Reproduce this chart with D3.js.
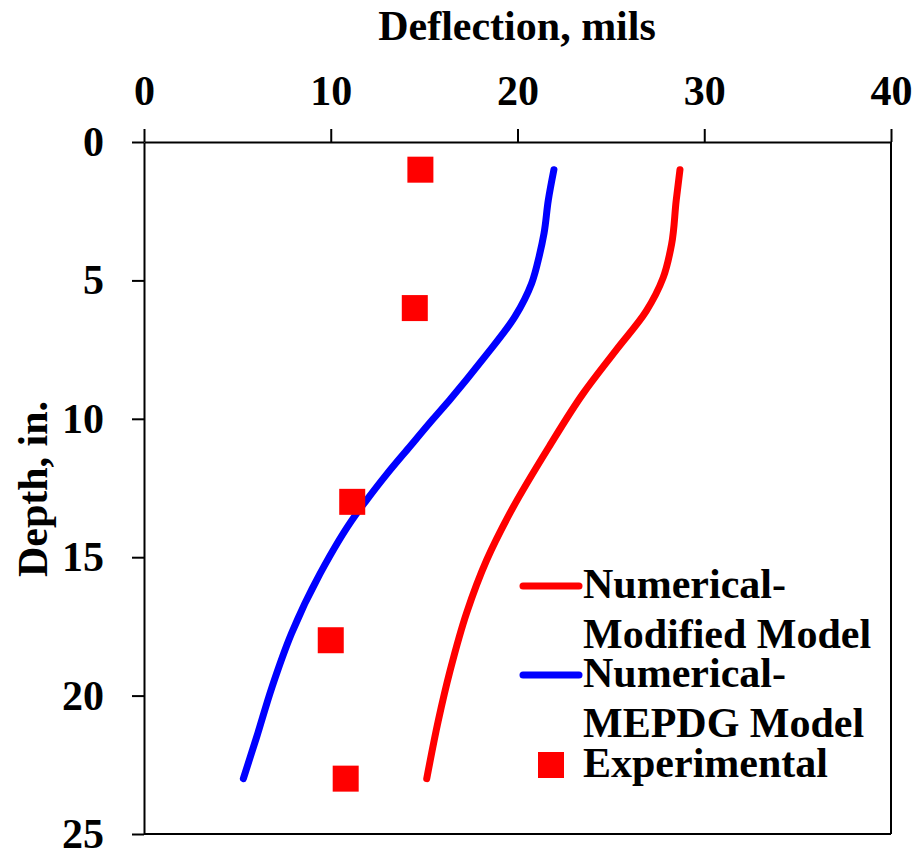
<!DOCTYPE html>
<html>
<head>
<meta charset="utf-8">
<script src="https://cdn.jsdelivr.net/npm/d3@7"></script>
<style>
  body { margin: 0; background: #fff; }
  text { font-family: "Liberation Serif", "Times New Roman", serif; font-weight: bold; fill: #000; }
</style>
</head>
<body>
<div class="chart"></div>
<script>
// depth (in.) and deflection (mils)
const modDepth = [1.0, 2.1, 3.7, 4.9, 6.1, 7.5, 9.1, 11.0, 13.4, 15.1, 17.0, 19.1, 20.9, 23.0];
const modDefl  = [28.7, 28.5, 28.25, 27.8, 26.9, 25.3, 23.5, 21.7, 19.6, 18.35, 17.28, 16.39, 15.76, 15.14];

const mepdgDepth = [1.0, 2.1, 3.3, 4.1, 5.1, 6.3, 7.8, 9.3, 10.0, 11.0, 12.0, 13.0, 13.5, 15.6, 17.75, 19.7, 21.5, 23.0];
const mepdgDefl  = [21.95, 21.65, 21.42, 21.17, 20.76, 19.87, 18.2, 16.39, 15.49, 14.24, 13.0, 11.85, 11.3, 9.42, 7.9, 6.85, 6.03, 5.32];

const expDepth = [1, 6, 13, 18, 23];
const expDefl  = [14.8, 14.5, 11.15, 10.0, 10.8];

const xTicks = [0, 10, 20, 30, 40];
const yTicks = [0, 5, 10, 15, 20, 25];

const width = 916, height = 849;
const margin = {left: 144, top: 142, right: 25, bottom: 15};
const w = width - margin.left - margin.right;
const h = height - margin.top - margin.bottom;
const fs = 42;

const svg = d3.select('.chart').append('svg')
    .attr('width', width)
    .attr('height', height);

const x = d3.scaleLinear().domain([0, 40]).range([0, w]);
const y = d3.scaleLinear().domain([0, 25]).range([0, h]);

const g = svg.append('g').attr('transform', `translate(${margin.left},${margin.top})`);

// right + bottom frame
g.append('line').attr('x1', w).attr('x2', w).attr('y1', 0).attr('y2', h)
    .attr('stroke', '#000').attr('stroke-width', 2);
g.append('line').attr('x1', 0).attr('x2', w).attr('y1', h).attr('y2', h)
    .attr('stroke', '#000').attr('stroke-width', 2);

const xAxis = g.append('g')
    .call(d3.axisTop(x).tickValues(xTicks).tickSize(13).tickSizeOuter(0).tickPadding(24));
const yAxis = g.append('g')
    .call(d3.axisLeft(y).tickValues(yTicks).tickSize(12).tickSizeOuter(0).tickPadding(28));

[xAxis, yAxis].forEach(a => {
    a.selectAll('path, line').attr('stroke', '#000').attr('stroke-width', 2);
    a.selectAll('text').attr('font-size', fs)
        .attr('font-family', '"Liberation Serif", "Times New Roman", serif')
        .attr('font-weight', 'bold').attr('fill', '#000');
});

// axis titles
svg.append('text')
    .attr('x', 517).attr('y', 40)
    .attr('text-anchor', 'middle')
    .attr('font-size', fs)
    .text('Deflection, mils');

svg.append('text')
    .attr('transform', 'translate(47,489) rotate(-90)')
    .attr('text-anchor', 'middle')
    .attr('font-size', fs)
    .text('Depth, in.');

const line = d3.line()
    .x(d => x(d[1]))
    .y(d => y(d[0]))
    .curve(d3.curveMonotoneY);

g.append('path')
    .datum(d3.zip(modDepth, modDefl))
    .attr('d', line)
    .attr('fill', 'none')
    .attr('stroke', '#ff0000')
    .attr('stroke-width', 7)
    .attr('stroke-linecap', 'round');

g.append('path')
    .datum(d3.zip(mepdgDepth, mepdgDefl))
    .attr('d', line)
    .attr('fill', 'none')
    .attr('stroke', '#0000ff')
    .attr('stroke-width', 7)
    .attr('stroke-linecap', 'round');

const sq = 26;
g.selectAll('rect.exp')
    .data(d3.zip(expDepth, expDefl))
    .enter()
    .append('rect')
    .attr('class', 'exp')
    .attr('x', d => x(d[1]) - sq / 2)
    .attr('y', d => y(d[0]) - sq / 2)
    .attr('width', sq)
    .attr('height', sq)
    .attr('fill', '#ff0000');

// legend
const leg = svg.append('g');
leg.append('line').attr('x1', 523).attr('x2', 579).attr('y1', 586).attr('y2', 586)
    .attr('stroke', '#ff0000').attr('stroke-width', 7).attr('stroke-linecap', 'round');
leg.append('line').attr('x1', 523).attr('x2', 579).attr('y1', 675).attr('y2', 675)
    .attr('stroke', '#0000ff').attr('stroke-width', 7).attr('stroke-linecap', 'round');
leg.append('rect').attr('x', 538).attr('y', 752).attr('width', sq).attr('height', sq)
    .attr('fill', '#ff0000');

const legText = [
    ['Numerical-', 598],
    ['Modified Model', 648],
    ['Numerical-', 687],
    ['MEPDG Model', 737],
    ['Experimental', 777]
];
leg.selectAll('text')
    .data(legText)
    .enter()
    .append('text')
    .attr('x', 583)
    .attr('y', d => d[1])
    .attr('font-size', fs)
    .text(d => d[0]);
</script>
</body>
</html>
